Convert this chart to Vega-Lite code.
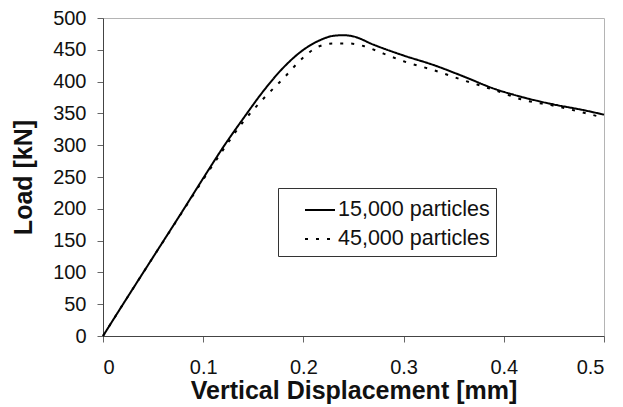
{
  "$schema": "https://vega.github.io/schema/vega-lite/v6.json",
  "width": 501,
  "height": 318,
  "autosize": {"type": "none"},
  "padding": {"left": 103, "top": 18, "right": 19, "bottom": 71},
  "background": "white",
  "config": {
    "view": {"stroke": "#b4b4b4", "strokeWidth": 1},
    "font": "Liberation Sans",
    "axis": {
      "grid": false,
      "domainColor": "#444",
      "domainWidth": 1,
      "tickColor": "#666",
      "tickSize": 6,
      "labelFont": "Liberation Sans",
      "labelFontSize": 20,
      "labelColor": "#111",
      "titleFont": "Liberation Sans",
      "titleFontWeight": "bold",
      "titleFontSize": 25,
      "titleColor": "#111",
      "zindex": 1
    }
  },
  "data": {
    "values": [
      {"d": 0, "load": 0, "series": "15,000 particles"},
      {"d": 0.02, "load": 50, "series": "15,000 particles"},
      {"d": 0.05, "load": 124, "series": "15,000 particles"},
      {"d": 0.08, "load": 198, "series": "15,000 particles"},
      {"d": 0.1, "load": 248, "series": "15,000 particles"},
      {"d": 0.12, "load": 297, "series": "15,000 particles"},
      {"d": 0.14, "load": 342, "series": "15,000 particles"},
      {"d": 0.16, "load": 385, "series": "15,000 particles"},
      {"d": 0.18, "load": 422, "series": "15,000 particles"},
      {"d": 0.2, "load": 450, "series": "15,000 particles"},
      {"d": 0.215, "load": 464, "series": "15,000 particles"},
      {"d": 0.23, "load": 472, "series": "15,000 particles"},
      {"d": 0.24, "load": 473, "series": "15,000 particles"},
      {"d": 0.25, "load": 471, "series": "15,000 particles"},
      {"d": 0.27, "load": 458, "series": "15,000 particles"},
      {"d": 0.3, "load": 441, "series": "15,000 particles"},
      {"d": 0.33, "load": 426, "series": "15,000 particles"},
      {"d": 0.36, "load": 408, "series": "15,000 particles"},
      {"d": 0.39, "load": 389, "series": "15,000 particles"},
      {"d": 0.42, "load": 375, "series": "15,000 particles"},
      {"d": 0.45, "load": 364, "series": "15,000 particles"},
      {"d": 0.48, "load": 355, "series": "15,000 particles"},
      {"d": 0.5, "load": 348, "series": "15,000 particles"},
      {"d": 0, "load": 0, "series": "45,000 particles"},
      {"d": 0.02, "load": 50, "series": "45,000 particles"},
      {"d": 0.05, "load": 124, "series": "45,000 particles"},
      {"d": 0.08, "load": 197, "series": "45,000 particles"},
      {"d": 0.1, "load": 246, "series": "45,000 particles"},
      {"d": 0.12, "load": 293, "series": "45,000 particles"},
      {"d": 0.14, "load": 337, "series": "45,000 particles"},
      {"d": 0.16, "load": 373, "series": "45,000 particles"},
      {"d": 0.18, "load": 405, "series": "45,000 particles"},
      {"d": 0.2, "load": 438, "series": "45,000 particles"},
      {"d": 0.215, "load": 455, "series": "45,000 particles"},
      {"d": 0.23, "load": 460, "series": "45,000 particles"},
      {"d": 0.245, "load": 460, "series": "45,000 particles"},
      {"d": 0.26, "load": 456, "series": "45,000 particles"},
      {"d": 0.28, "load": 444, "series": "45,000 particles"},
      {"d": 0.3, "load": 432, "series": "45,000 particles"},
      {"d": 0.33, "load": 418, "series": "45,000 particles"},
      {"d": 0.36, "load": 402, "series": "45,000 particles"},
      {"d": 0.39, "load": 387, "series": "45,000 particles"},
      {"d": 0.42, "load": 371, "series": "45,000 particles"},
      {"d": 0.45, "load": 362, "series": "45,000 particles"},
      {"d": 0.48, "load": 351, "series": "45,000 particles"},
      {"d": 0.5, "load": 343, "series": "45,000 particles"}
    ]
  },
  "mark": {"type": "line", "color": "black", "strokeWidth": 2, "interpolate": "monotone"},
  "encoding": {
    "x": {
      "field": "d", "type": "quantitative",
      "scale": {"domain": [0, 0.5], "nice": false},
      "axis": {"values": [0, 0.1, 0.2, 0.3, 0.4, 0.5], "format": "~g", "title": "Vertical Displacement [mm]", "labelPadding": 15, "titlePadding": 1}
    },
    "y": {
      "field": "load", "type": "quantitative",
      "scale": {"domain": [0, 500], "nice": false},
      "axis": {"values": [0, 50, 100, 150, 200, 250, 300, 350, 400, 450, 500], "title": "Load [kN]", "labelPadding": 11, "titlePadding": 16}
    },
    "strokeDash": {
      "field": "series", "type": "nominal",
      "scale": {"domain": ["15,000 particles", "45,000 particles"], "range": [[1, 0], [3, 8]]},
      "legend": {
        "title": null,
        "orient": "none",
        "legendX": 175,
        "legendY": 170,
        "fillColor": "white",
        "strokeColor": "#333",
        "padding": 6,
        "symbolType": "stroke",
        "symbolSize": 900,
        "symbolStrokeWidth": 2,
        "symbolStrokeColor": "black",
        "symbolOffset": 20,
        "labelFont": "Liberation Sans",
        "labelFontSize": 21.5,
        "labelColor": "#111",
        "labelOffset": 2,
        "labelLimit": 300,
        "rowPadding": 2
      }
    }
  }
}
